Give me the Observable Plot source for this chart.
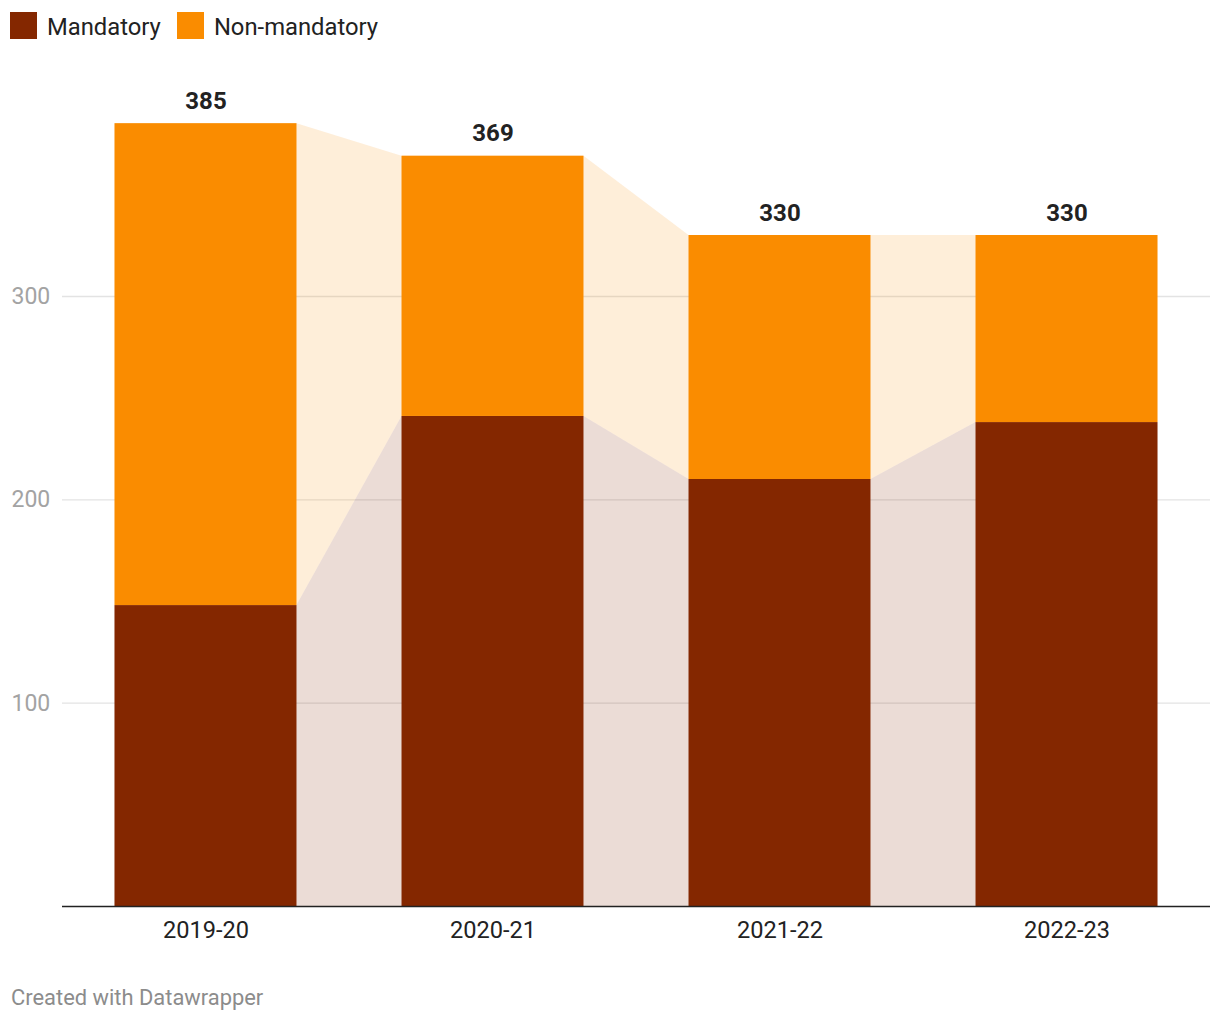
<!DOCTYPE html>
<html>
<head>
<meta charset="utf-8">
<script src="https://cdn.jsdelivr.net/npm/d3@7"></script>
<script src="https://cdn.jsdelivr.net/npm/@observablehq/plot@0.6"></script>
<style>
  html, body { margin: 0; padding: 0; background: #fff; font-family: Roboto, sans-serif; }
  #legend { height: 50px; box-sizing: border-box; padding: 12px 0 0 10px; display: flex; align-items: flex-start; }
  #legend .item { display: flex; align-items: center; margin-right: 16px; height: 27px; }
  #legend .sw { width: 27px; height: 27px; margin-right: 10px; }
  #legend .lab { font-size: 23.8px; color: #222; line-height: 27px; position: relative; top: 1.5px; }
  #footer { margin-top: 40px; padding-left: 11px; font-size: 21.9px; line-height: 24px; color: #8c8c8c; }
</style>
</head>
<body>
<div id="legend"></div>
<div id="chart"></div>
<div id="footer">Created with Datawrapper</div>
<script>
const years = ["2019-20", "2020-21", "2021-22", "2022-23"];
const mandatory = [148, 241, 210, 238];
const totals = [385, 369, 330, 330];
const seriesNames = ["Mandatory", "Non-mandatory"];
const seriesColors = ["#842700", "#fa8c00"];
const yTicks = [100, 200, 300];

const nonMandatory = totals.map((t, i) => t - mandatory[i]);
const hw = 0.317; // half bar width in band units

const bars = [];
years.forEach((y, i) => {
  bars.push({i, year: y, type: seriesNames[0], y1: 0, y2: mandatory[i]});
  bars.push({i, year: y, type: seriesNames[1], y1: mandatory[i], y2: mandatory[i] + nonMandatory[i]});
});
const edges = [];
years.forEach((y, i) => {
  [i - hw, i + hw].forEach(x => edges.push({x, m: mandatory[i], t: totals[i]}));
});

const legend = document.getElementById("legend");
seriesNames.forEach((n, k) => {
  const it = document.createElement("div");
  it.className = "item";
  it.innerHTML = `<div class="sw" style="background:${seriesColors[k]}"></div><div class="lab">${n}</div>`;
  legend.appendChild(it);
});

const chart = Plot.plot({
  width: 1220,
  height: 896,
  marginTop: 2,
  marginBottom: 40,
  marginLeft: 62,
  marginRight: 10,
  style: {fontFamily: "Roboto, sans-serif", background: "#fff"},
  x: {domain: [-0.5, years.length - 0.5]},
  y: {domain: [0, 420]},
  color: {domain: seriesNames, range: seriesColors},
  marks: [
    Plot.gridY(yTicks, {stroke: "#e3e3e3", strokeOpacity: 1, strokeWidth: 1.3}),
    Plot.areaY(edges, {x: "x", y: "m", fill: seriesColors[0], fillOpacity: 0.16}),
    Plot.areaY(edges, {x: "x", y1: "m", y2: "t", fill: seriesColors[1], fillOpacity: 0.15}),
    Plot.rectY(bars, {x1: d => d.i - hw, x2: d => d.i + hw, y1: "y1", y2: "y2", fill: "type"}),
    Plot.ruleY([0], {stroke: "#222", strokeWidth: 1.5}),
    Plot.axisY(yTicks, {tickSize: 0, tickPadding: 0, textAnchor: "start", dx: -51, fontSize: 23, fill: "#a3a3a3", label: null}),
    Plot.axisX(years.map((y, i) => i), {tickSize: 0, tickPadding: 15, tickFormat: i => years[i], fontSize: 23.6, fill: "#222", label: null}),
    Plot.text(years.map((y, i) => ({i, t: totals[i]})), {x: "i", y: "t", text: d => String(d.t), dy: -22.5, fontSize: 24, fontWeight: "bold", fill: "#222"})
  ]
});
document.getElementById("chart").appendChild(chart);
</script>
</body>
</html>
